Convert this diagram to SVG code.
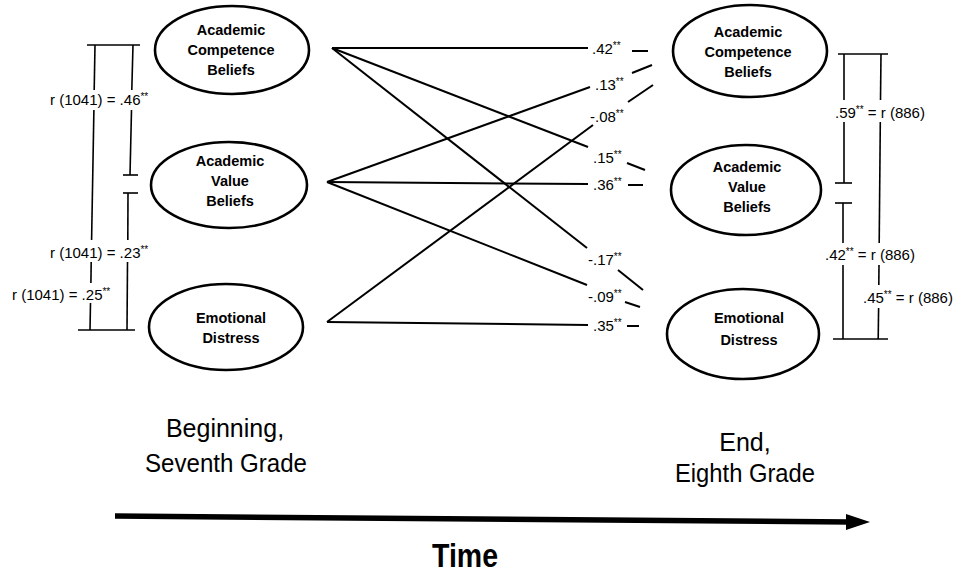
<svg xmlns="http://www.w3.org/2000/svg" width="954" height="573" viewBox="0 0 954 573">
<style>
.node ellipse{fill:#fff;stroke:#000;stroke-width:2.6}
.nt{font-family:"Liberation Sans",Arial,sans-serif;font-weight:bold;font-size:14.5px;text-anchor:middle;fill:#000}
.conn line{stroke:#000;stroke-width:2}
.br line{stroke:#000;stroke-width:1.6}
.lab{font-family:"Liberation Sans",Arial,sans-serif;font-size:15px;fill:#000}
.sup{font-size:10px}
.big{font-family:"Liberation Sans",Arial,sans-serif;font-size:25px;text-anchor:middle;fill:#000}
</style>
<rect width="954" height="573" fill="#fff"/>

<g id="connectors" class="conn">
<line x1="332" y1="48" x2="588" y2="48"/>
<line x1="332" y1="48" x2="588" y2="147"/>
<line x1="332" y1="48" x2="587" y2="248"/>
<line x1="327" y1="182" x2="590" y2="87"/>
<line x1="327" y1="182" x2="588" y2="184"/>
<line x1="327" y1="182" x2="587" y2="285"/>
<line x1="327" y1="322" x2="593" y2="125"/>
<line x1="327" y1="322" x2="588" y2="325"/>
<line x1="632" y1="51" x2="648" y2="51"/>
<line x1="632" y1="73" x2="652" y2="65"/>
<line x1="628" y1="102" x2="653" y2="85"/>
<line x1="627" y1="163" x2="645" y2="170"/>
<line x1="628" y1="185" x2="643" y2="185"/>
<line x1="618" y1="270" x2="643" y2="290"/>
<line x1="625" y1="302" x2="640" y2="307"/>
<line x1="627" y1="326" x2="639" y2="326"/>
</g>

<g id="path-labels">
<text class="lab" x="592" y="54">.42<tspan class="sup" dy="-5">**</tspan></text>
<text class="lab" x="595" y="90">.13<tspan class="sup" dy="-5">**</tspan></text>
<text class="lab" x="590" y="122">-.08<tspan class="sup" dy="-5">**</tspan></text>
<text class="lab" x="593" y="163">.15<tspan class="sup" dy="-5">**</tspan></text>
<text class="lab" x="593" y="190">.36<tspan class="sup" dy="-5">**</tspan></text>
<text class="lab" x="588" y="265">-.17<tspan class="sup" dy="-5">**</tspan></text>
<text class="lab" x="588" y="302">-.09<tspan class="sup" dy="-5">**</tspan></text>
<text class="lab" x="593" y="331">.35<tspan class="sup" dy="-5">**</tspan></text>
</g>

<g id="left-brackets" class="br">
<line x1="87" y1="45" x2="140" y2="45"/>
<line x1="95" y1="45" x2="94.2" y2="90"/>
<line x1="93.9" y1="110" x2="91.6" y2="240"/>
<line x1="91.2" y1="262" x2="90.9" y2="283"/>
<line x1="90.5" y1="303" x2="90" y2="330"/>
<line x1="133" y1="45" x2="131.8" y2="90"/>
<line x1="131.5" y1="110" x2="130" y2="175"/>
<line x1="123" y1="175" x2="138" y2="175"/>
<line x1="123" y1="193" x2="138" y2="193"/>
<line x1="128" y1="193" x2="127.8" y2="240"/>
<line x1="127.5" y1="262" x2="127" y2="330"/>
<line x1="78" y1="330" x2="135" y2="330"/>
</g>
<g id="left-labels">
<text class="lab" x="50" y="105">r (1041) = .46<tspan class="sup" dy="-5">**</tspan></text>
<text class="lab" x="50" y="258">r (1041) = .23<tspan class="sup" dy="-5">**</tspan></text>
<text class="lab" x="12" y="300">r (1041) = .25<tspan class="sup" dy="-5">**</tspan></text>
</g>

<g id="right-brackets" class="br">
<line x1="838" y1="54" x2="888" y2="54"/>
<line x1="844" y1="54" x2="844" y2="100"/>
<line x1="844" y1="122" x2="844" y2="183"/>
<line x1="835" y1="183" x2="852" y2="183"/>
<line x1="835" y1="203" x2="852" y2="203"/>
<line x1="843" y1="203" x2="843" y2="243"/>
<line x1="843" y1="265" x2="843" y2="339"/>
<line x1="881" y1="54" x2="880.5" y2="100"/>
<line x1="880.3" y1="122" x2="879.2" y2="243"/>
<line x1="879" y1="265" x2="878.8" y2="285"/>
<line x1="878.6" y1="308" x2="878.2" y2="339"/>
<line x1="833" y1="339" x2="888" y2="339"/>
</g>
<g id="right-labels">
<text class="lab" x="835" y="118">.59<tspan class="sup" dy="-5">**</tspan><tspan dy="5"> = r (886)</tspan></text>
<text class="lab" x="825" y="260">.42<tspan class="sup" dy="-5">**</tspan><tspan dy="5"> = r (886)</tspan></text>
<text class="lab" x="863" y="303">.45<tspan class="sup" dy="-5">**</tspan><tspan dy="5"> = r (886)</tspan></text>
</g>

<g id="L1" class="node">
<ellipse cx="232" cy="50" rx="77" ry="44"/>
<text class="nt" x="231" y="35">Academic</text>
<text class="nt" x="231" y="55">Competence</text>
<text class="nt" x="231" y="75">Beliefs</text>
</g>
<g id="L2" class="node">
<ellipse cx="229" cy="185" rx="78" ry="43"/>
<text class="nt" x="230" y="166">Academic</text>
<text class="nt" x="230" y="186">Value</text>
<text class="nt" x="230" y="206">Beliefs</text>
</g>
<g id="L3" class="node">
<ellipse cx="226" cy="327" rx="77" ry="43"/>
<text class="nt" x="231" y="323">Emotional</text>
<text class="nt" x="231" y="343">Distress</text>
</g>
<g id="R1" class="node">
<ellipse cx="750" cy="51" rx="77" ry="46"/>
<text class="nt" x="748" y="37">Academic</text>
<text class="nt" x="748" y="57">Competence</text>
<text class="nt" x="748" y="77">Beliefs</text>
</g>
<g id="R2" class="node">
<ellipse cx="746" cy="190" rx="75" ry="45"/>
<text class="nt" x="747" y="172">Academic</text>
<text class="nt" x="747" y="192">Value</text>
<text class="nt" x="747" y="212">Beliefs</text>
</g>
<g id="R3" class="node">
<ellipse cx="743" cy="334" rx="76" ry="45"/>
<text class="nt" x="749" y="323">Emotional</text>
<text class="nt" x="749" y="345">Distress</text>
</g>

<g id="time-labels">
<text class="big" x="225" y="437">Beginning,</text>
<text class="big" x="226" y="472" textLength="162" lengthAdjust="spacingAndGlyphs">Seventh Grade</text>
<text class="big" x="745" y="451">End,</text>
<text class="big" x="745" y="482" textLength="140" lengthAdjust="spacingAndGlyphs">Eighth Grade</text>
</g>

<g id="time-arrow">
<line x1="115" y1="516" x2="850" y2="522" stroke="#000" stroke-width="5.5"/>
<polygon points="846,514 870,522 846,530" fill="#000"/>
<text x="465" y="567" font-family="'Liberation Sans',Arial,sans-serif" font-weight="bold" font-size="34" text-anchor="middle" textLength="66" lengthAdjust="spacingAndGlyphs">Time</text>
</g>
</svg>
